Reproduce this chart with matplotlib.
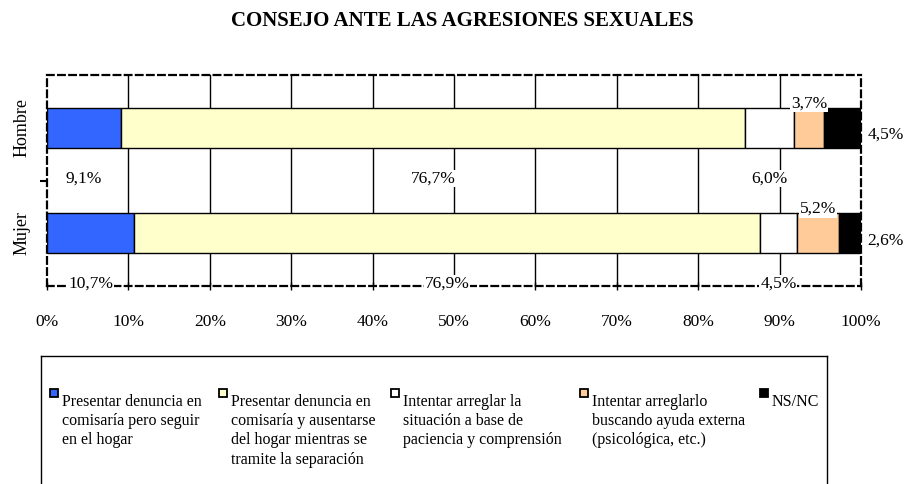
import numpy as np
import matplotlib.pyplot as plt

plt.rcParams['font.family'] = ['Liberation Serif', 'DejaVu Serif']

# data
groups = ['Mujer', 'Hombre']
series = ['Presentar denuncia en\ncomisaría pero seguir\nen el hogar',
          'Presentar denuncia en\ncomisaría y ausentarse\ndel hogar mientras se\ntramite la separación',
          'Intentar arreglar la\nsituación a base de\npaciencia y comprensión',
          'Intentar arreglarlo\nbuscando ayuda externa\n(psicológica, etc.)',
          'NS/NC']
mujer = [10.7, 76.9, 4.5, 5.2, 2.6]
hombre = [9.1, 76.7, 6.0, 3.7, 4.5]
colors = ['#3366FF', '#FFFFCC', '#FFFFFF', '#FFCC99', '#000000']
ticks = np.arange(0, 101, 10)

values = np.array([mujer, hombre])

fig = plt.figure(figsize=(9.16, 4.84), dpi=100)
ax = fig.add_axes([47/916, 198/484, 814/916, 211/484])

ypos = np.arange(len(groups))
left = np.zeros(len(groups))
for i in range(len(series)):
    ax.barh(ypos, values[:, i], left=left, height=0.38, color=colors[i],
            edgecolor='black', linewidth=1, zorder=3)
    # data labels, placed like in the original sheet
    for j in range(len(groups)):
        v = values[j, i]
        xc = left[j] + v / 2
        if i < 3:
            x, y = xc, ypos[j] - 0.48
        elif i == 3:
            x, y = xc, ypos[j] + 0.23
        else:
            x, y = 103, ypos[j] - 0.07
        ax.text(x, y, f"{v:.1f}%".replace('.', ','), ha='center', va='center',
                fontsize=12.5, zorder=5,
                bbox=dict(facecolor='white', edgecolor='none', pad=0.5),
                clip_on=False)
    left = left + values[:, i]

ax.set_xlim(0, 100)
ax.set_ylim(-0.5, 1.5)
for x in ticks[1:-1]:
    ax.axvline(x, color='black', linewidth=1, zorder=1)

for s in ax.spines.values():
    s.set_linestyle((0, (3, 2)))
    s.set_linewidth(1.6)

ax.set_xticks(ticks)
ax.set_xticklabels([f"{t}%" for t in ticks], fontsize=12.5)
ax.tick_params(axis='x', direction='inout', length=6, width=1, pad=17)

ax.set_yticks(ypos)
ax.set_yticklabels(groups, rotation=90, va='center', fontsize=13)
ax.tick_params(axis='y', length=0, pad=12)
ax.set_yticks([0.5], minor=True)
ax.tick_params(axis='y', which='minor', length=5, width=1.5)

fig.text(462/916, 1 - 21/484, 'CONSEJO ANTE LAS AGRESIONES SEXUALES',
         ha='center', va='center', fontsize=15, fontweight='bold')

# legend box (coordinates in pixels of the figure)
lax = fig.add_axes([41/916, 0, 786/916, (484 - 356)/484])
lax.set_xlim(41, 827)
lax.set_ylim(484, 356)
lax.set_xticks([])
lax.set_yticks([])
lax.set_facecolor('none')
for s in lax.spines.values():
    s.set_linewidth(1)
lax.spines['bottom'].set_visible(False)
text_x = [62, 231, 403, 592, 772]
for i, lab in enumerate(series):
    lax.add_patch(plt.Rectangle((text_x[i] - 12, 389), 8, 8,
                                facecolor=colors[i], edgecolor='black',
                                linewidth=1.3, clip_on=False))
    lax.text(text_x[i], 394, lab, ha='left', va='top', fontsize=11.5,
             linespacing=1.27)

fig.savefig('out.png', dpi=100)
